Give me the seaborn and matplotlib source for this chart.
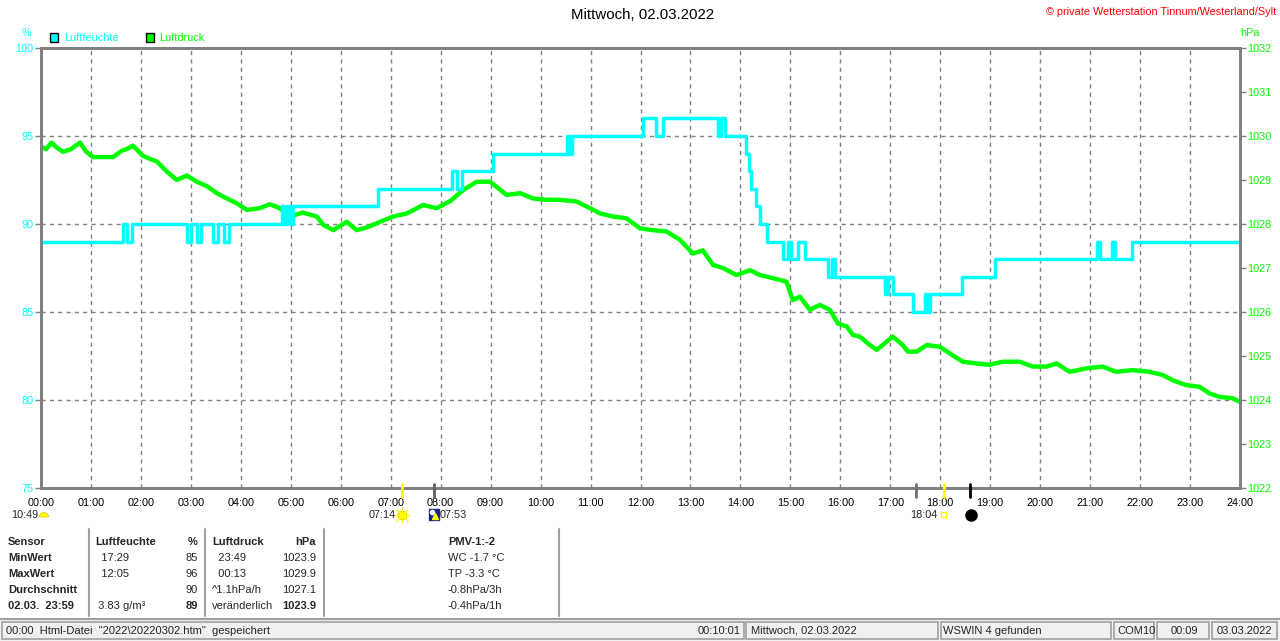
import matplotlib
matplotlib.use("Agg")
import matplotlib.pyplot as plt
import seaborn as sns
import pandas as pd
from matplotlib.patches import Rectangle, Wedge
from matplotlib.lines import Line2D

# ---------------- data ----------------
hum_time = [0, 1.635, 1.715, 1.815, 2.93, 3.01, 3.12, 3.20, 3.44, 3.54, 3.66, 3.76,
            4.82, 4.87, 4.92, 4.98, 5.05, 6.75, 8.22, 8.32, 8.42, 9.04, 10.52, 10.56,
            10.62, 12.06, 12.32, 12.46, 13.56, 13.62, 13.70, 14.12, 14.17, 14.22, 14.32,
            14.40, 14.53, 14.86, 14.95, 15.02, 15.15, 15.29, 15.76, 15.83, 15.89, 16.89,
            16.95, 17.05, 17.46, 17.70, 17.73, 17.79, 18.43, 19.09, 21.13, 21.20, 21.43,
            21.50, 21.83, 24.0]
hum_val = [89, 90, 89, 90, 89, 90, 89, 90, 89, 90, 89, 90,
           91, 90, 91, 90, 91, 92, 93, 92, 93, 94, 95, 94,
           95, 96, 95, 96, 95, 96, 95, 94, 93, 92, 91,
           90, 89, 88, 89, 88, 89, 88, 87, 88, 87, 86,
           87, 86, 85, 86, 85, 86, 87, 88, 89, 88, 89,
           88, 89, 89]

p_time = [0.00, 0.10, 0.21, 0.30, 0.44, 0.60, 0.78, 0.90, 1.04, 1.20, 1.44, 1.61, 1.75,
          1.84, 2.04, 2.18, 2.32, 2.52, 2.72, 2.92, 3.12, 3.32, 3.52, 3.72, 3.92, 4.12,
          4.38, 4.58, 4.78, 4.98, 5.24, 5.52, 5.65, 5.85, 6.12, 6.32, 6.52, 6.79, 7.05,
          7.32, 7.65, 7.92, 8.19, 8.45, 8.72, 8.99, 9.32, 9.59, 9.85, 10.12, 10.39, 10.72,
          10.99, 11.19, 11.45, 11.72, 11.99, 12.25, 12.52, 12.79, 13.05, 13.25, 13.45,
          13.65, 13.92, 14.19, 14.39, 14.65, 14.92, 15.05, 15.19, 15.39, 15.59, 15.79,
          15.95, 16.13, 16.25, 16.39, 16.59, 16.73, 16.93, 17.05, 17.25, 17.35, 17.53,
          17.73, 17.99, 18.19, 18.45, 18.73, 18.99, 19.25, 19.59, 19.85, 20.13, 20.33,
          20.59, 20.93, 21.25, 21.52, 21.85, 22.19, 22.45, 22.65, 22.92, 23.19, 23.39,
          23.59, 23.85, 24.00]
p_val = [1029.76, 1029.70, 1029.85, 1029.75, 1029.64, 1029.70, 1029.85, 1029.65, 1029.52,
         1029.52, 1029.52, 1029.66, 1029.72, 1029.78, 1029.55, 1029.48, 1029.42, 1029.19,
         1029.00, 1029.10, 1028.96, 1028.86, 1028.70, 1028.58, 1028.47, 1028.32, 1028.36,
         1028.45, 1028.36, 1028.17, 1028.26, 1028.17, 1027.98, 1027.86, 1028.05, 1027.86,
         1027.92, 1028.05, 1028.17, 1028.24, 1028.43, 1028.36, 1028.52, 1028.77, 1028.96,
         1028.96, 1028.66, 1028.70, 1028.58, 1028.55, 1028.55, 1028.51, 1028.36, 1028.24,
         1028.17, 1028.13, 1027.90, 1027.86, 1027.83, 1027.64, 1027.33, 1027.40, 1027.07,
         1027.00, 1026.84, 1026.95, 1026.84, 1026.77, 1026.69, 1026.27, 1026.35, 1026.05,
         1026.16, 1026.05, 1025.74, 1025.67, 1025.48, 1025.44, 1025.25, 1025.14, 1025.33,
         1025.44, 1025.25, 1025.10, 1025.10, 1025.25, 1025.21, 1025.06, 1024.87, 1024.83,
         1024.80, 1024.87, 1024.87, 1024.76, 1024.76, 1024.83, 1024.64, 1024.72, 1024.76,
         1024.64, 1024.68, 1024.64, 1024.57, 1024.45, 1024.34, 1024.30, 1024.15, 1024.07,
         1024.04, 1023.96]

hour_ticks = list(range(0, 25))
hour_labels = [f"{h:02d}:00" for h in hour_ticks]
hum_ticks = [75, 80, 85, 90, 95, 100]
p_ticks = list(range(1022, 1033))

title = "Mittwoch, 02.03.2022"
copyright_txt = "© private Wetterstation Tinnum/Westerland/Sylt"

table_rows = [
    ["Sensor", "Luftfeuchte", "%", "Luftdruck", "hPa", "PMV-1:-2"],
    ["MinWert", "  17:29", "85", "  23:49", "1023.9", "WC -1.7 °C"],
    ["MaxWert", "  12:05", "96", "  00:13", "1029.9", "TP -3.3 °C"],
    ["Durchschnitt", "", "90", "^1.1hPa/h", "1027.1", "-0.8hPa/3h"],
    ["02.03.  23:59", " 3.83 g/m³", "89", "veränderlich", "1023.9", "-0.4hPa/1h"],
]
status_texts = ['00:00  Html-Datei  "2022\\20220302.htm"  gespeichert', "00:10:01",
                "Mittwoch, 02.03.2022", "WSWIN 4 gefunden", "COM10", "00:09", "03.03.2022"]

# ---------------- style ----------------
sns.set_style("white")
plt.rcParams['font.family'] = ['Liberation Sans', 'DejaVu Sans']

CYAN = "#00ffff"
GREEN = "#00ff00"
GRAY = "#808080"

W, H = 1280, 641
fig = plt.figure(figsize=(12.8, 6.41), dpi=100)
fig.patch.set_facecolor("white")

L, R, T, B = 41, 1240, 48, 488
ax = fig.add_axes([L / W, (H - B) / H, (R - L) / W, (B - T) / H])
ax2 = ax.twinx()
ax.set_zorder(2)
ax2.set_zorder(1)
ax.patch.set_visible(False)

# pressure (bottom layer)
dfp = pd.DataFrame({"t": p_time, "p": p_val})
sns.lineplot(data=dfp, x="t", y="p", ax=ax2, color=GREEN, lw=3.2,
             estimator=None, sort=False)
# humidity (top layer)
dfh = pd.DataFrame({"t": hum_time, "h": hum_val})
sns.lineplot(data=dfh, x="t", y="h", ax=ax, color=CYAN, lw=2.5,
             drawstyle="steps-post", estimator=None, sort=False)

ax.set_xlim(0, 24)
ax.set_ylim(75, 100)
ax2.set_ylim(1022, 1032)

# grid (on bottom axes)
for h in range(1, 24):
    ax2.axvline(h, color=GRAY, lw=1.0, ls=(0, (3, 3)), zorder=0)
for pv in [1024, 1026, 1028, 1030]:
    ax2.axhline(pv, color=GRAY, lw=1.0, ls=(0, (3, 3)), zorder=0)

ax.set_xticks(hour_ticks)
ax.set_xticklabels(hour_labels)
ax.tick_params(axis="x", length=0, pad=7, labelsize=7.8, colors="black")
ax.set_yticks(hum_ticks)
ax.set_yticklabels([str(v) for v in hum_ticks])
ax.tick_params(axis="y", length=4, width=1, color=GRAY, pad=1.5, labelsize=7.8,
               labelcolor=CYAN, direction="out")
ax2.set_yticks(p_ticks)
ax2.set_yticklabels([str(v) for v in p_ticks])
ax2.tick_params(axis="y", length=4, width=1, color=GRAY, pad=1.5, labelsize=7.8,
                labelcolor=GREEN, direction="out")
for a in (ax, ax2):
    a.set_xlabel("")
    a.set_ylabel("")
    for s in a.spines.values():
        s.set_color(GRAY)
        s.set_linewidth(2)

# ---------------- overlay in pixel coordinates ----------------
ov = fig.add_axes([0, 0, 1, 1], zorder=5)
ov.set_xlim(0, W)
ov.set_ylim(H, 0)
ov.axis("off")

fs = 8.0
ov.text(643, 15, title, ha="center", va="center", fontsize=10.8, color="black")
ov.text(1276, 12, copyright_txt, ha="right", va="center", fontsize=7.8, color="red")
ov.text(26, 33, "%", ha="center", va="center", fontsize=7.8, color=CYAN)
ov.text(1250, 33, "hPa", ha="center", va="center", fontsize=7.8, color=GREEN)

# legend
ov.add_patch(Rectangle((50, 33), 8, 9, facecolor=CYAN, edgecolor="black", lw=1))
ov.text(64, 38, "Luftfeuchte", ha="left", va="center", fontsize=7.8, color=CYAN)
ov.add_patch(Rectangle((146, 33), 8, 9, facecolor=GREEN, edgecolor="black", lw=1))
ov.text(159, 38, "Luftdruck", ha="left", va="center", fontsize=7.8, color=GREEN)

# sun / moon marks below the axis
for x, c in [(402, "#ffff00"), (434, "#606060"), (916, "#707070"), (944, "#ffff00"), (970, "black")]:
    ov.add_line(Line2D([x, x], [484, 497], color=c, lw=2))
ov.text(11, 515, "10:49", ha="left", va="center", fontsize=7.8)
ov.add_patch(Wedge((44, 517), 4.5, 180, 360, facecolor="#ffff00", edgecolor="#e0c000", lw=0.5))
ov.text(369, 515, "07:14", ha="left", va="center", fontsize=7.8)
ov.plot([402], [515], marker="o", ms=6, color="#ffff00", mec="#f0d000")
ov.plot([402], [515], marker="+", ms=11, color="#ffff00", mew=1)
ov.plot([402], [515], marker="x", ms=8, color="#ffff00", mew=1)
ov.add_patch(Rectangle((429, 509), 10, 11, facecolor="#1a237e", edgecolor="#1a237e"))
ov.plot([431.5], [511.5], marker="o", ms=3, color="white")
ov.plot([435], [516], marker="^", ms=5, color="#ffff00")
ov.text(440, 515, "07:53", ha="left", va="center", fontsize=7.8)
ov.text(910, 515, "18:04", ha="left", va="center", fontsize=7.8)
ov.add_patch(Rectangle((940.5, 512), 5, 5, facecolor="none", edgecolor="#ffff00", lw=1))
ov.plot([970.5], [515], marker="o", ms=8, color="black")

# table
for x in [89, 205, 324, 559]:
    ov.add_line(Line2D([x, x], [529, 616], color="#a0a0a0", lw=1.5))
row_y = [542, 558, 574, 590, 606]
for i, row in enumerate(table_rows):
    y = row_y[i]
    w_all = "bold" if i == 0 else "normal"
    ov.text(8, y, row[0], ha="left", va="center", fontsize=fs, fontweight="bold")
    ov.text(95, y, row[1], ha="left", va="center", fontsize=fs, fontweight=w_all)
    ov.text(198, y, row[2], ha="right", va="center", fontsize=fs,
            fontweight="bold" if i in (0, 4) else "normal")
    ov.text(212, y, row[3], ha="left", va="center", fontsize=fs, fontweight=w_all)
    ov.text(316, y, row[4], ha="right", va="center", fontsize=fs,
            fontweight="bold" if i in (0, 4) else "normal")
    ov.text(448, y, row[5], ha="left", va="center", fontsize=fs, fontweight=w_all)

# status bar
ov.add_patch(Rectangle((0, 618), W, H - 618, facecolor="#f0f0f0", edgecolor="none"))
ov.add_line(Line2D([0, W], [618.5, 618.5], color="#a0a0a0", lw=1.5))
panels = [(2, 744), (746, 938), (941, 1111), (1114, 1154), (1157, 1209), (1212, 1277)]
for x0, x1 in panels:
    ov.add_patch(Rectangle((x0, 622), x1 - x0, 17, facecolor="#f0f0f0", edgecolor="#a0a0a0", lw=1.2))
sy = 630.5
ov.text(6, sy, status_texts[0], ha="left", va="center", fontsize=fs)
ov.text(741, sy, status_texts[1], ha="right", va="center", fontsize=fs)
ov.text(751, sy, status_texts[2], ha="left", va="center", fontsize=fs)
ov.text(943, sy, status_texts[3], ha="left", va="center", fontsize=fs)
ov.text(1117, sy, status_texts[4], ha="left", va="center", fontsize=fs)
ov.text(1184, sy, status_texts[5], ha="center", va="center", fontsize=fs)
ov.text(1217, sy, status_texts[6], ha="left", va="center", fontsize=fs)

fig.savefig("out.png", dpi=100, facecolor="white")
